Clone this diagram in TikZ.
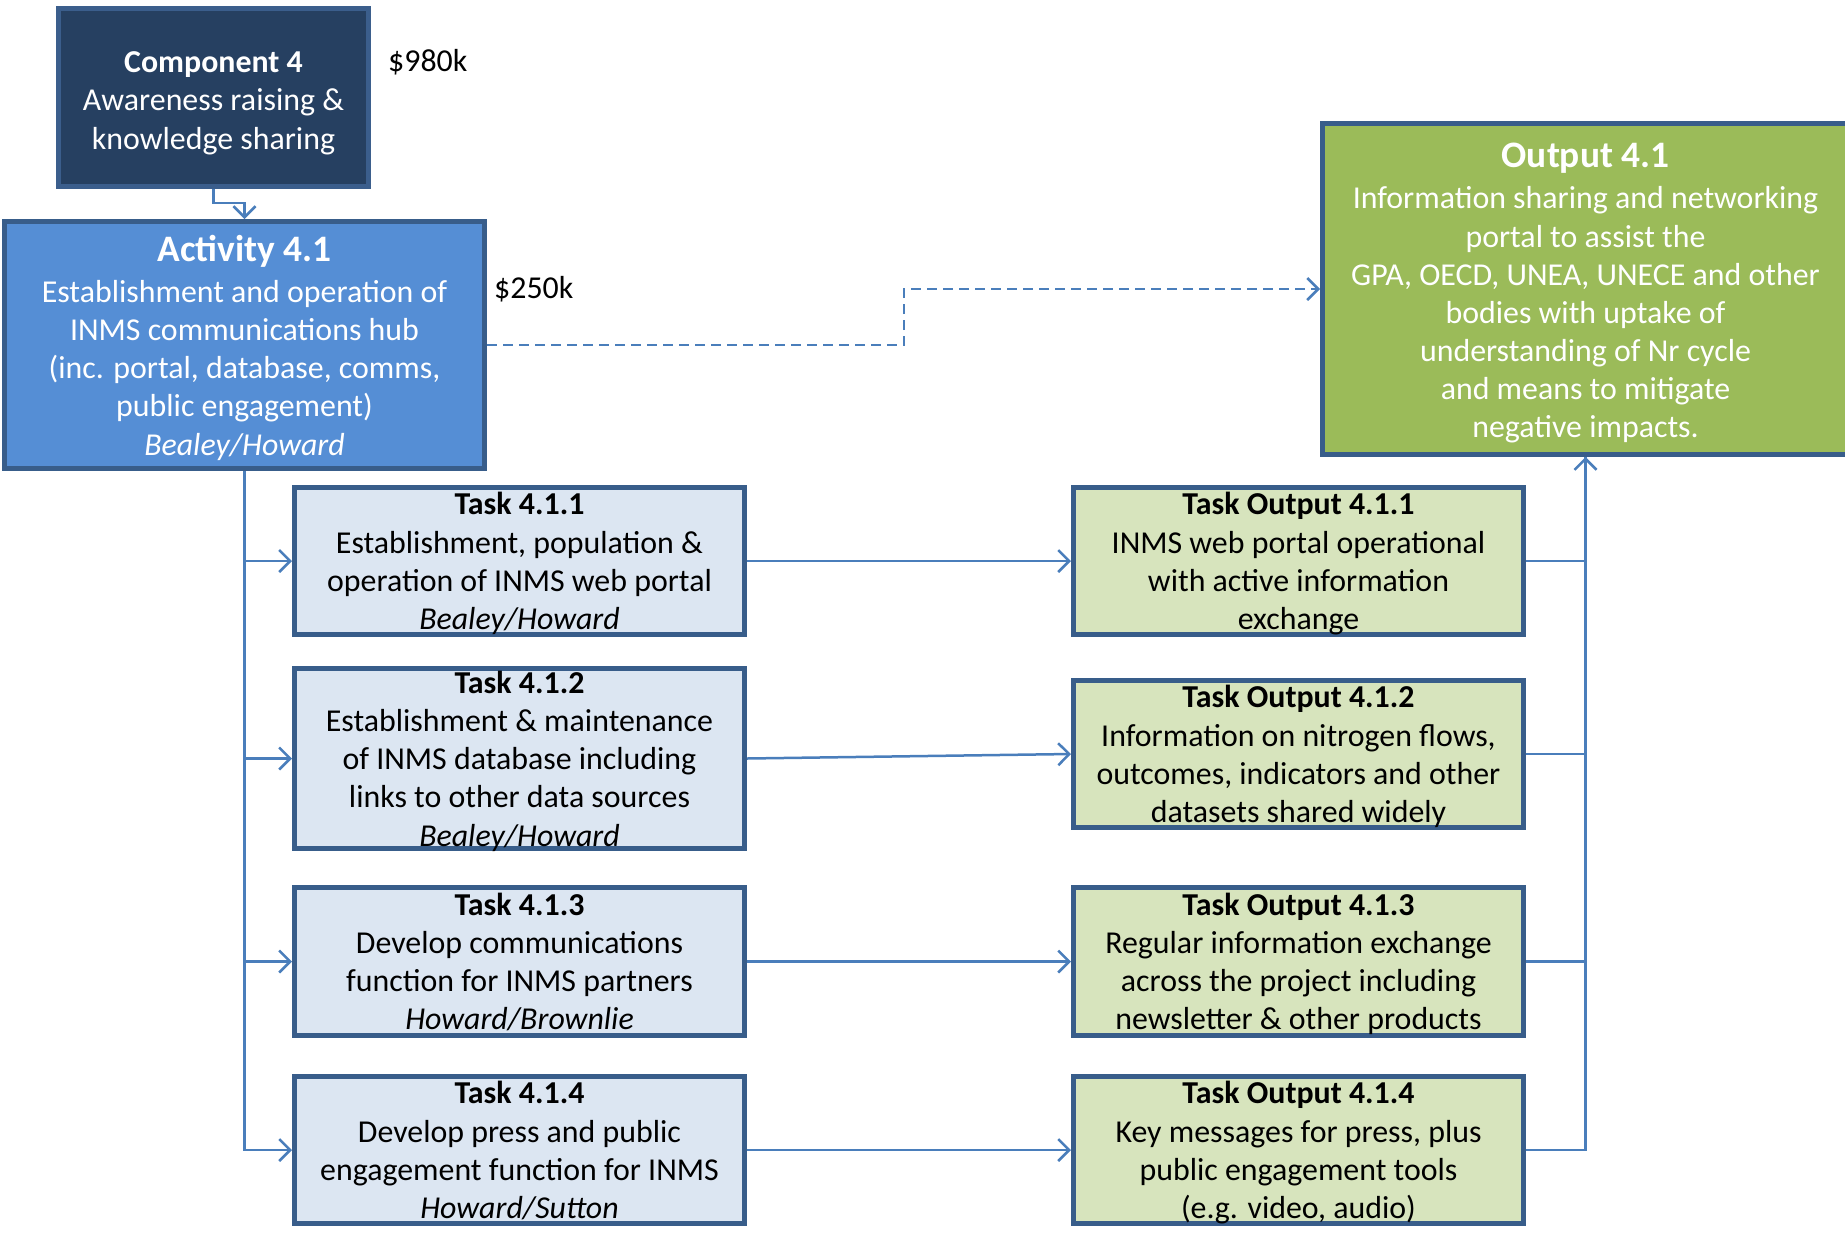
\documentclass[tikz,border=0pt]{standalone}
\usepackage{fontspec}
\setmainfont{Carlito}
\usetikzlibrary{arrows.meta}
\definecolor{navy}{RGB}{38,64,97}
\definecolor{navyborder}{RGB}{59,94,140}
\definecolor{bordblue}{RGB}{56,93,138}
\definecolor{actblue}{RGB}{85,142,213}
\definecolor{outgreen}{RGB}{155,187,89}
\definecolor{taskfill}{RGB}{220,230,242}
\definecolor{tofill}{RGB}{215,228,189}
\definecolor{linkblue}{RGB}{74,126,187}
\newcommand\mystrut{\rule[-10bp]{0pt}{38bp}}
\newcommand\bigtitle[1]{{\fontsize{37.5}{40}\selectfont\bfseries #1}}
\begin{document}
\begin{tikzpicture}[x=1bp,y=-1bp,
  box/.style={draw=bordblue, line width=5bp, rectangle, inner sep=0pt},
  boxtext/.style={inner sep=0pt, align=center, font=\fontsize{32}{38.3}\selectfont,
    execute at begin node=\mystrut, execute at end node=\mystrut},
  taskbox/.style={box, fill=taskfill, minimum width=450bp},
  tobox/.style={box, fill=tofill, minimum width=450bp},
  link/.style={draw=linkblue, line width=2.5bp},
  arr/.style={link, -{Straight Barb[length=11bp,width=22bp,line width=2.5bp]}},
  dasharr/.style={arr, dash pattern=on 10bp off 6bp},
  money/.style={anchor=west, inner sep=0pt, font=\fontsize{32}{38}\selectfont}
]
\useasboundingbox (0,0) rectangle (1845,1233);
\clip (0,0) rectangle (1845,1233);

% boxes
\node[box, fill=navy, draw=navyborder, minimum width=310bp, minimum height=178bp] (comp) at (213.5,97.5) {};
\node[box, fill=actblue, minimum width=480bp, minimum height=247bp] (act) at (244.5,345) {};
\node[box, fill=outgreen, minimum width=526bp, minimum height=331bp] (out) at (1585.5,289) {};
\node[taskbox, minimum height=147bp] (t1) at (519.5,561) {};
\node[taskbox, minimum height=180bp] (t2) at (519.5,758.5) {};
\node[taskbox, minimum height=148bp] (t3) at (519.5,961.5) {};
\node[taskbox, minimum height=147bp] (t4) at (519.5,1150) {};
\node[tobox, minimum height=147bp] (o1) at (1298.5,561) {};
\node[tobox, minimum height=147bp] (o2) at (1298.5,754) {};
\node[tobox, minimum height=148bp] (o3) at (1298.5,961.5) {};
\node[tobox, minimum height=147bp] (o4) at (1298.5,1150) {};

% texts
\node[boxtext, text=white] (compT) at ([yshift=-8bp]comp.center)
  {\textbf{Component 4}\\Awareness raising \&\\knowledge sharing};
\node[money] (m980) at (388,62) {\$980k};

\node[boxtext, text=white] (actT) at ([yshift=-5bp]act.center) {\bigtitle{Activity 4.1}\\[3bp]
  Establishment and operation of\\INMS communications hub\\(inc. portal, database, comms,\\public engagement)\\\textit{Bealey/Howard}};
\node[money] (m250) at (494,289) {\$250k};

\node[boxtext, text=white] (outT) at ([yshift=-6.5bp]out.center) {\bigtitle{Output 4.1}\\[3bp]
  Information sharing and networking\\portal to assist the\\GPA, OECD, UNEA, UNECE and other\\bodies with uptake of\\understanding of Nr cycle\\and means to mitigate\\negative impacts.};

\node[boxtext] (t1T) at ([yshift=-5bp]t1.center)
  {\textbf{Task 4.1.1}\\Establishment, population \&\\operation of INMS web portal\\\textit{Bealey/Howard}};
\node[boxtext] (t2T) at ([yshift=-5bp]t2.center)
  {\textbf{Task 4.1.2}\\Establishment \& maintenance\\of INMS database including\\links to other data sources\\\textit{Bealey/Howard}};
\node[boxtext] (t3T) at ([yshift=-5bp]t3.center)
  {\textbf{Task 4.1.3}\\Develop communications\\function for INMS partners\\\textit{Howard/Brownlie}};
\node[boxtext] (t4T) at ([yshift=-5bp]t4.center)
  {\textbf{Task 4.1.4}\\Develop press and public\\engagement function for INMS\\\textit{Howard/Sutton}};

\node[boxtext] (o1T) at ([yshift=-5bp]o1.center)
  {\textbf{Task Output 4.1.1}\\INMS web portal operational\\with active information\\exchange};
\node[boxtext] (o2T) at ([yshift=-5bp]o2.center)
  {\textbf{Task Output 4.1.2}\\Information on nitrogen flows,\\outcomes, indicators and other\\datasets shared widely};
\node[boxtext] (o3T) at ([yshift=-5bp]o3.center)
  {\textbf{Task Output 4.1.3}\\Regular information exchange\\across the project including\\newsletter \& other products};
\node[boxtext] (o4T) at ([yshift=-5bp]o4.center)
  {\textbf{Task Output 4.1.4}\\Key messages for press, plus\\public engagement tools\\(e.g. video, audio)};

% connectors
\draw[arr] (comp.south) -- ++(0,14) -| (act.north);
\coordinate (dk) at (904,0);
\draw[dasharr] (act.east) -- (act.east -| dk) |- (out.west);

\draw[arr] (act.south) |- (t1.west);
\draw[arr] (act.south) |- (t2.west);
\draw[arr] (act.south) |- (t3.west);
\draw[arr] (act.south) |- (t4.west);

\draw[arr] (t1.east) -- (o1.west);
\draw[arr] (t2.east) -- (o2.west);
\draw[arr] (t3.east) -- (o3.west);
\draw[arr] (t4.east) -- (o4.west);

\draw[link] (o2.east) -| (out.south);
\draw[link] (o3.east) -| (out.south);
\draw[link] (o4.east) -| (out.south);
\draw[arr] (o1.east) -| (out.south);
\end{tikzpicture}
\end{document}
